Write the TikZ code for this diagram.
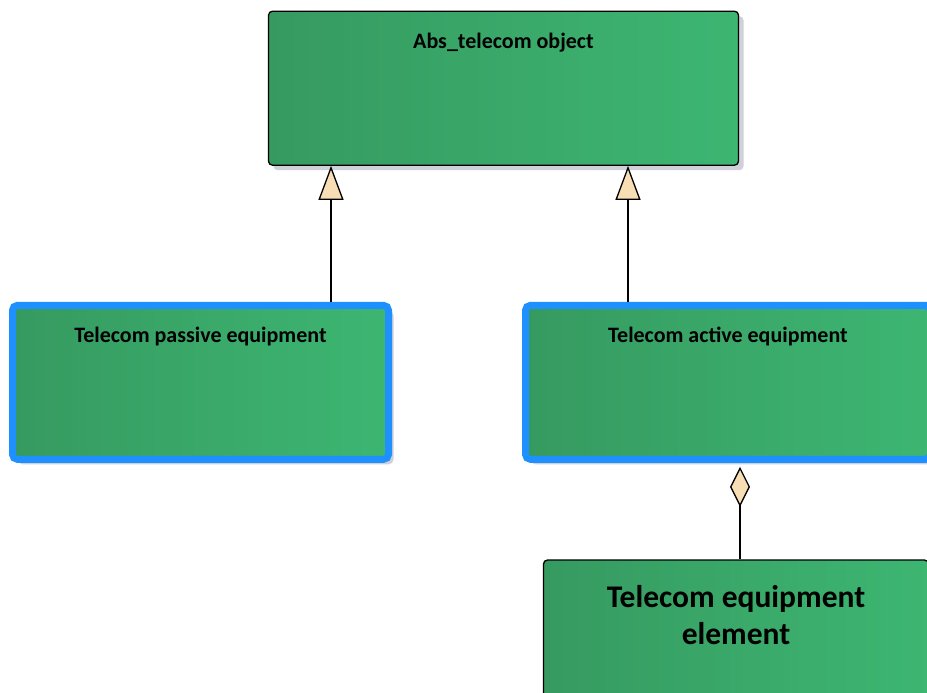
\documentclass[tikz,border=0pt]{standalone}
\usepackage{fontspec}
\setmainfont{Carlito}
\usetikzlibrary{arrows.meta, positioning, shadows}
\definecolor{greenleft}{RGB}{54,154,96}
\definecolor{greenright}{RGB}{61,182,114}
\definecolor{blueedge}{RGB}{30,144,255}
\definecolor{tipwheat}{RGB}{247,222,181}
\definecolor{shadowgray}{RGB}{208,208,218}

\begin{document}
\begin{tikzpicture}[
    x=1pt, y=1pt,
    cls/.style={
        rectangle, rounded corners=4pt,
        draw=black, line width=1.3pt,
        left color=greenleft, right color=greenright,
        drop shadow={shadow xshift=5pt, shadow yshift=-5pt, fill=shadowgray, opacity=1},
        font=\bfseries\fontsize{22}{26}\selectfont,
        inner xsep=0pt, inner ysep=0pt,
        text height=37pt, text depth=117pt,
        align=center
    },
    sel/.style={draw=blueedge, line width=7pt, rounded corners=5pt},
    big/.style={font=\bfseries\fontsize{31.5}{37}\selectfont, text height=84pt, text depth=71pt},
    gen/.style={-{Triangle[length=34pt, width=25pt, fill=tipwheat]}, line width=1.3pt},
    agg/.style={-{Diamond[length=40pt, width=20pt, fill=tipwheat]}, line width=1.3pt}
]
\useasboundingbox (0,0) rectangle (927,-693);

\node[cls, minimum width=470pt] (abs) at (503.5,-88.2) {Abs\_telecom object};
\node[cls, sel, minimum width=376pt, below=136pt of abs, xshift=-303pt] (pas) {Telecom passive equipment};
\node[cls, sel, minimum width=405pt, right=130pt of pas] (act) {Telecom active equipment};
\node[cls, big, minimum width=385pt, below=96.5pt of act, xshift=8pt] (elem) {Telecom equipment\\element};

% generalisation and aggregation
\draw[gen] ([xshift=130.5pt]pas.north) -- ([xshift=130.5pt]pas.north |- abs.south);
\draw[gen] ([xshift=-100pt]act.north) -- ([xshift=-100pt]act.north |- abs.south);
\draw[agg, shorten >=4pt] ([xshift=4pt]elem.north) -- ([xshift=4pt]elem.north |- act.south);

\end{tikzpicture}
\end{document}
